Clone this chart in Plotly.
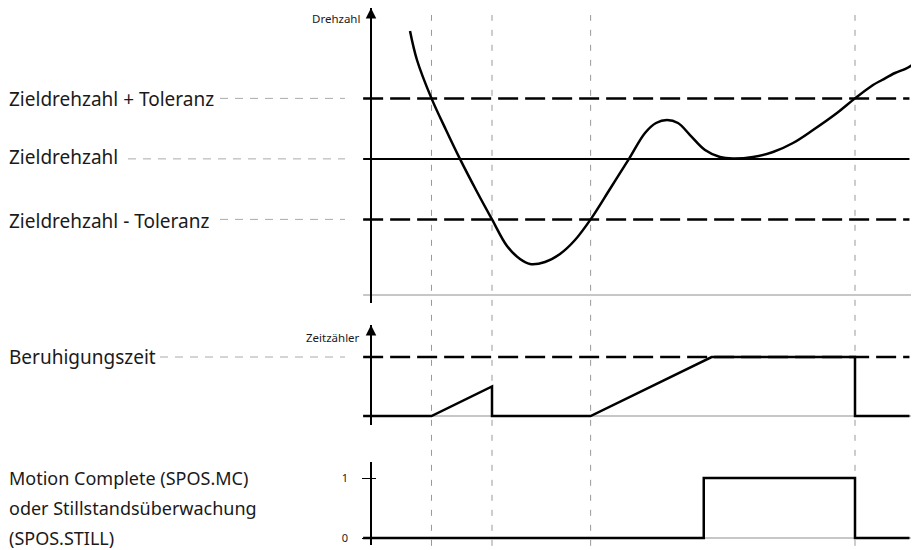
import plotly.graph_objects as go

# ---------------- data ----------------
# time axis (s); diagram runs from t_start to t_end
t_start, t_end, t_grid_end = -0.13, 8.9, 8.98
event_times = [1.0, 2.0, 3.63, 8.0]

# speed panel (arbitrary speed units, baseline 0)
target_speed = 4.5
tolerance = 2.0
speed_t = [0.645, 0.76, 1.0, 1.24, 1.47, 1.736, 2.0, 2.248, 2.463, 2.628, 2.876, 3.124,
           3.372, 3.63, 3.95, 4.264, 4.529, 4.711, 4.893, 5.074, 5.273, 5.521, 5.769, 5.983,
           6.314, 6.645, 6.975, 7.306, 7.702, 8.0, 8.298, 8.446, 8.661, 8.826, 8.942, 9.025]
speed_v = [8.727, 7.769, 6.5, 5.455, 4.5, 3.471, 2.5, 1.62, 1.19, 1.025, 1.091, 1.355,
           1.818, 2.5, 3.504, 4.5, 5.355, 5.686, 5.785, 5.686, 5.289, 4.793, 4.562, 4.512,
           4.562, 4.727, 5.025, 5.455, 6.017, 6.5, 6.942, 7.107, 7.339, 7.471, 7.603, 7.736]

# settling timer panel (s)
settling_time = 2.0
timer_t = [t_start, 1.0, 2.0, 2.0, 3.63, 5.63, 8.0, 8.0, t_end]
timer_v = [0, 0, 1.0, 0, 0, 2.0, 2.0, 0, 0]

# motion complete signal
mc_t = [t_start, 5.5, 5.5, 8.0, 8.0, t_end]
mc_v = [0, 0, 1, 1, 0, 0]

label_font = dict(family="Noto Sans", size=19, color="#1a1a1a")
label_font_sm = dict(family="Noto Sans", size=18, color="#1a1a1a")
small_font = dict(family="Noto Sans", size=11.5, color="#1a1a1a")
tick_font = dict(family="Noto Sans", size=11, color="#1a1a1a")

OFF = 8  # page body margin
W, H = 919 - OFF, 550 - OFF


def PX(x):  # page pixel -> paper x
    return (x - OFF) / W


def PY(y):  # page pixel -> paper y
    return 1 - (y - OFF) / H


AXIS_PX = 371
X_SCALE = 60.5  # px per second

fig = go.Figure()
BLACK = "#000000"
DASH = "20px,7px"

# baselines (gray)
for ya in ["y", "y2", "y3"]:
    fig.add_trace(go.Scatter(x=[t_start, t_grid_end], y=[0, 0], yaxis=ya, mode="lines",
                             line=dict(color="#b4b4b4", width=1.5), hoverinfo="skip"))

# speed panel reference lines
fig.add_trace(go.Scatter(x=[t_start, t_end], y=[target_speed + tolerance] * 2, mode="lines",
                         line=dict(color=BLACK, width=2.5, dash=DASH), hoverinfo="skip"))
fig.add_trace(go.Scatter(x=[t_start, t_end], y=[target_speed] * 2, mode="lines",
                         line=dict(color=BLACK, width=2), hoverinfo="skip"))
fig.add_trace(go.Scatter(x=[t_start, t_end], y=[target_speed - tolerance] * 2, mode="lines",
                         line=dict(color=BLACK, width=2.5, dash=DASH), hoverinfo="skip"))
fig.add_trace(go.Scatter(x=speed_t, y=speed_v, mode="lines",
                         line=dict(color=BLACK, width=2.5, shape="spline", smoothing=1.0),
                         hoverinfo="skip"))

# timer panel
fig.add_trace(go.Scatter(x=[t_start, t_end], y=[settling_time] * 2, yaxis="y2", mode="lines",
                         line=dict(color=BLACK, width=2.5, dash=DASH), hoverinfo="skip"))
fig.add_trace(go.Scatter(x=timer_t, y=timer_v, yaxis="y2", mode="lines",
                         line=dict(color=BLACK, width=2.5), hoverinfo="skip"))

# motion complete panel
fig.add_trace(go.Scatter(x=mc_t, y=mc_v, yaxis="y3", mode="lines",
                         line=dict(color=BLACK, width=2.5), hoverinfo="skip"))

shapes = []
# vertical event lines
for te in event_times:
    shapes.append(dict(type="line", xref="x", yref="paper", x0=te, x1=te, y0=-0.02, y1=PY(15),
                       line=dict(color="#999999", width=1, dash="6px,9px"), layer="below"))
# left guide lines
guides = [(220, "y", target_speed + tolerance), (128, "y", target_speed),
          (220, "y", target_speed - tolerance), (160, "y2", settling_time)]
for px0, ya, lvl in guides:
    shapes.append(dict(type="line", xref="paper", yref=ya, x0=PX(px0), x1=PX(345), y0=lvl, y1=lvl,
                       line=dict(color="#aaaaaa", width=1, dash="8px,7px"), layer="below"))

annotations = []
left_labels = [("Zieldrehzahl + Toleranz", 99, label_font), ("Zieldrehzahl", 157, label_font),
               ("Zieldrehzahl - Toleranz", 221, label_font), ("Beruhigungszeit", 357, label_font),
               ("Motion Complete (SPOS.MC)", 478, label_font_sm),
               ("oder Stillstandsüberwachung", 508, label_font_sm),
               ("(SPOS.STILL)", 538, label_font_sm)]
for txt, py, fnt in left_labels:
    annotations.append(dict(text=txt, xref="paper", yref="paper", x=PX(7), y=PY(py),
                            xanchor="left", yanchor="middle", showarrow=False, font=fnt))
for txt, py in [("Drehzahl", 19), ("Zeitzähler", 337)]:
    annotations.append(dict(text=txt, xref="paper", yref="paper", x=PX(362), y=PY(py),
                            xanchor="right", yanchor="middle", showarrow=False, font=small_font))

# axis ranges
y1_range = [-0.2645, 9.488]
y2_range = [-0.305, 3.085]
y3_range = [-0.1167, 1.2667]
# arrowheads on the y-axes
for ya, top in [("y", y1_range[1]), ("y2", y2_range[1])]:
    annotations.append(dict(text="", xref="x", yref=ya, x=0, y=top, ax=0, ay=12, showarrow=True,
                            arrowhead=2, arrowsize=1.4, arrowwidth=1.5, arrowcolor=BLACK,
                            standoff=0))

common_y = dict(anchor="free", position=PX(AXIS_PX), showline=True, linecolor=BLACK,
                linewidth=1.5, showgrid=False, zeroline=False, fixedrange=True)
fig.update_layout(
    width=W, height=H, margin=dict(l=0, r=0, t=0, b=0),
    paper_bgcolor="white", plot_bgcolor="white", showlegend=False,
    xaxis=dict(range=[-(AXIS_PX - OFF) / X_SCALE, (919 - AXIS_PX) / X_SCALE], visible=False,
               fixedrange=True),
    yaxis=dict(domain=[PY(303), PY(8)], range=y1_range, showticklabels=False,
               ticks="", **common_y),
    yaxis2=dict(domain=[PY(425), PY(325)], range=y2_range, showticklabels=False,
                ticks="", **common_y),
    yaxis3=dict(domain=[PY(545), PY(462)], range=y3_range, tickvals=[0, 1],
                ticktext=["0", "1"], ticks="outside", ticklen=8, tickwidth=1, tickcolor=BLACK,
                ticklabelstandoff=12, tickfont=tick_font, **common_y),
    yaxis4=dict(domain=[PY(545), PY(462)], range=y3_range, overlaying="y3",
                tickvals=[1], ticks="inside", ticklen=4, tickwidth=1, tickcolor=BLACK,
                showticklabels=False, anchor="free", position=PX(AXIS_PX), showline=False,
                showgrid=False, zeroline=False, fixedrange=True),
    shapes=shapes, annotations=annotations,
)
fig.add_trace(go.Scatter(x=[None], y=[None], yaxis="y4", hoverinfo="skip"))

fig.write_html("out.html")
